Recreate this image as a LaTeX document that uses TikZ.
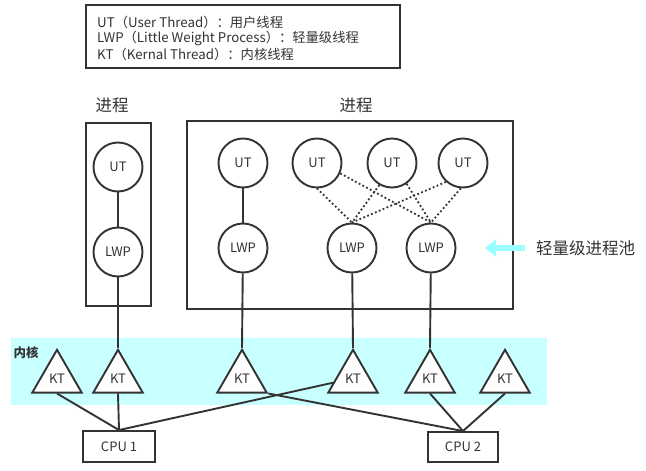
\documentclass[tikz,border=0pt]{standalone}
\usepackage{fontspec}
\setmainfont{Noto Sans CJK SC}
\usetikzlibrary{shapes.geometric,arrows.meta}
\definecolor{ln}{HTML}{333333}
\definecolor{band}{HTML}{C8FFFF}
\definecolor{arr}{HTML}{99FFFF}
\begin{document}
\begin{tikzpicture}[x=1pt,y=-1pt,
  every node/.style={font=\fontsize{13}{15}\selectfont, text=ln},
  thread/.style={circle,draw=ln,line width=1.9pt,minimum size=49pt,inner sep=0pt,fill=white},
  kt/.style={regular polygon,regular polygon sides=3,draw=ln,line width=1.9pt,minimum size=57pt,inner sep=0pt,fill=white},
  cpu/.style={rectangle,draw=ln,line width=1.9pt,minimum width=71pt,minimum height=30pt,inner sep=0pt,fill=white},
  frame/.style={draw=ln,line width=1.9pt},
  link/.style={draw=ln,line width=1.9pt},
  pool/.style={draw=ln,line width=1.8pt,dash pattern=on 1.8pt off 2.4pt},
  legendtext/.style={anchor=west,inner sep=0pt,font=\fontsize{13.3}{15}\selectfont},
  title/.style={inner sep=0pt,font=\fontsize{16.5}{18}\selectfont}]
\useasboundingbox (0,0) rectangle (646,471);
\fill[white] (0,0) rectangle (646,471);
% kernel band
\fill[band] (11,338) rectangle (547,405);
\node[inner sep=0pt,font=\fontsize{12.5}{14}\selectfont\bfseries] (kern) at (26,353) {内核};
% legend
\draw[frame] (86,5) rectangle (400,68);
\node[legendtext] (lg1) at (97,22.5) {UT（User Thread）：用户线程};
\node[legendtext] (lg2) at (97,38.5) {LWP（Little Weight Process）：轻量级线程};
\node[legendtext] (lg3) at (97,54) {KT（Kernal Thread）：内核线程};
% process frames
\draw[frame] (86,123) rectangle (151,306);
\draw[frame] (187,121) rectangle (513,309);
\node[title] (p1) at (112,105) {进程};
\node[title] (p2) at (356,105) {进程};
% threads
\node[thread] (ut0) at (118,167) {UT};
\node[thread] (lwp0) at (118,252) {LWP};
\node[thread] (ut1) at (243,163) {UT};
\node[thread] (ut2) at (317,163) {UT};
\node[thread] (ut3) at (392,163) {UT};
\node[thread] (ut4) at (463,163) {UT};
\node[thread] (lwp1) at (243,248) {LWP};
\node[thread] (lwp2) at (352,248) {LWP};
\node[thread] (lwp3) at (431,248) {LWP};
% kernel threads
\node[kt] (kt1) at (57,378.3) {KT};
\node[kt] (kt2) at (118,378.3) {KT};
\node[kt] (kt3) at (242,378.3) {KT};
\node[kt] (kt4) at (353,378.3) {KT};
\node[kt] (kt5) at (430,378.3) {KT};
\node[kt] (kt6) at (505,378.3) {KT};
% cpus
\node[cpu,minimum width=72pt,minimum height=31pt] (cpu1) at (119,446.5) {CPU 1};
\node[cpu,minimum width=70pt] (cpu2) at (463,447) {CPU 2};
% pool arrow
\coordinate (arrS) at (525,248);
\coordinate (arrE) at (485,248);
\draw[arr,line width=6pt,-{Triangle[length=11pt,width=17pt]}] (arrS) -- (arrE);
\node[title] (pooltxt) at (585.5,248) {轻量级进程池};
% connectors
\draw[link] (ut0) -- (lwp0);
\draw[link] (ut1) -- (lwp1);
\draw[pool] (ut2.south) -- (lwp2.north);
\draw[pool] (ut2.-24) -- (lwp3.north);
\draw[pool] (ut3.-120) -- (lwp2.north);
\draw[pool] (ut3.-55) -- (lwp3.north);
\draw[pool] (ut4.-132) -- (lwp2.north);
\draw[pool] (ut4.-95) -- (lwp3.north);
\draw[link] (lwp0) -- (kt2.corner 1);
\draw[link] (lwp1) -- (kt3.corner 1);
\draw[link] (lwp2) -- (kt4.corner 1);
\draw[link] (lwp3) -- (kt5.corner 1);
\draw[link] (kt1.side 2) -- (cpu1.north);
\draw[link] (kt2.side 2) -- (cpu1.north);
\draw[link] (kt4) -- (cpu1.north);
\draw[link] (kt3.corner 3) -- (cpu2.north);
\draw[link] (kt5.side 2) -- (cpu2.north);
\draw[link] (kt6.side 2) -- (cpu2.north);
\end{tikzpicture}
\end{document}
